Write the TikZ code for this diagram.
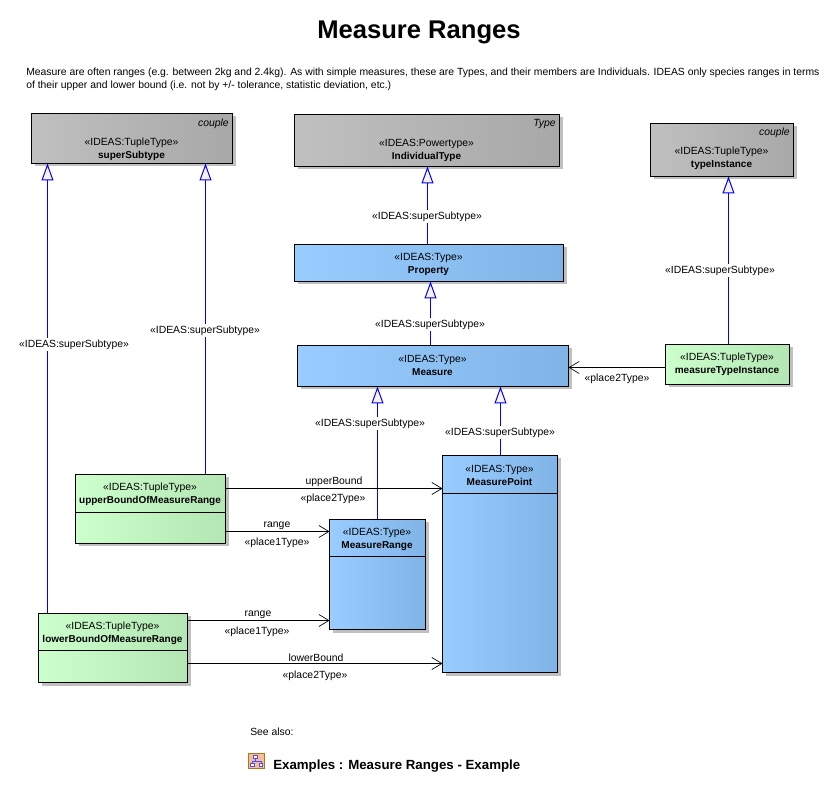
\documentclass[tikz,border=0pt]{standalone}
\usepackage{fontspec}
\setmainfont{Liberation Sans}
\usetikzlibrary{arrows.meta}
\definecolor{uline}{RGB}{0,0,255}
\definecolor{cream}{RGB}{248,242,232}
\definecolor{shadowgrey}{RGB}{192,192,192}
\definecolor{gA}{RGB}{192,192,192}
\definecolor{gB}{RGB}{168,168,168}
\definecolor{bA}{RGB}{153,204,255}
\definecolor{bB}{RGB}{128,180,230}
\definecolor{nA}{RGB}{204,255,204}
\definecolor{nB}{RGB}{180,230,180}
\definecolor{iconfill}{RGB}{245,190,150}
\definecolor{iconedge}{RGB}{170,120,20}
\definecolor{iconblue}{RGB}{77,77,255}
\newcommand{\nm}[1]{{\fontsize{7.5pt}{9.75pt}\selectfont\bfseries #1}}
\tikzset{
  x=0.75pt,y=-0.75pt,
  greybox/.style={left color=gA,middle color=gA,right color=gB},
  bluebox/.style={left color=bA,middle color=bA,right color=bB},
  greenbox/.style={left color=nA,middle color=nA,right color=nB},
  txt/.style={font=\fontsize{7.8pt}{9.75pt}\selectfont,inner sep=0pt,align=center,yshift=-0.8pt},
  lab/.style={txt,fill=white,inner xsep=1pt,inner ysep=1pt},
  plainlab/.style={txt},
  corner/.style={txt,font=\fontsize{7.8pt}{9.75pt}\selectfont\itshape,anchor=east},
  gen/.style={uline,line width=0.75pt,-{Triangle[length=12.75pt,width=9pt,fill=cream,line width=0.75pt]}},
  assoc/.style={black,line width=0.75pt,-{Straight Barb[length=7.5pt,width=9pt,line width=0.5pt]}},
  divider/.style={black,line width=0.75pt}
}
\newcommand{\umlbox}[6]{% name x1 y1 x2 y2 style
  \fill[shadowgrey] (#2+3.5,#3+3.5) rectangle (#4+3.5,#5+3.5);
  \node[#6,draw=black,line width=0.75pt,inner sep=0pt,anchor=north west,outer sep=0pt,
        minimum width={(#4-#2)*0.75pt},minimum height={(#5-#3)*0.75pt}] (#1) at (#2+0.5,#3+0.5) {};
}
\begin{document}
\begin{tikzpicture}
\useasboundingbox (0,0) rectangle (833,802);
\fill[white] (0,0) rectangle (833,802);
\node[font=\fontsize{19.2pt}{21pt}\selectfont\bfseries,inner sep=0pt] (title) at (419,32) {Measure Ranges};
\node[txt,align=left,anchor=north west,font=\fontsize{7.79pt}{9.75pt}\selectfont] (intro) at (26,67)
 {Measure are often ranges (e.g. between 2kg and 2.4kg). As with simple measures, these are Types, and their members are Individuals. IDEAS only species ranges in terms\\of their upper and lower bound (i.e. not by +/- tolerance, statistic deviation, etc.)};

\umlbox{sup}{31}{113}{232}{163}{greybox}
\umlbox{ind}{294}{114}{559}{166}{greybox}
\umlbox{tin}{650}{123}{793}{176}{greybox}
\umlbox{pro}{294}{244}{563}{281}{bluebox}
\umlbox{mea}{297}{345}{568}{386}{bluebox}
\umlbox{mti}{665}{344}{789}{384}{greenbox}
\umlbox{upp}{75}{474}{225}{543}{greenbox}
\umlbox{low}{38}{613}{187}{682}{greenbox}
\umlbox{mra}{329}{519}{425}{629}{bluebox}
\umlbox{mpo}{442}{455}{557}{672}{bluebox}

\coordinate (d1) at (0,512.5);
\coordinate (d2) at (0,650.5);
\coordinate (d3) at (0,556.5);
\coordinate (d4) at (0,493.5);
\draw[divider] (upp.west |- d1) -- (upp.east |- d1);
\draw[divider] (low.west |- d2) -- (low.east |- d2);
\draw[divider] (mra.west |- d3) -- (mra.east |- d3);
\draw[divider] (mpo.west |- d4) -- (mpo.east |- d4);

\node[txt] (supt) at (131.5,148.5) {«IDEAS:TupleType»\\\nm{superSubtype}};
\node[txt] (indt) at (426.5,149.5) {«IDEAS:Powertype»\\\nm{IndividualType}};
\node[txt] (tint) at (721.5,157.5) {«IDEAS:TupleType»\\\nm{typeInstance}};
\node[txt] (prot) at (428.5,263.5) {«IDEAS:Type»\\\nm{Property}};
\node[txt] (meat) at (432.5,364.5) {«IDEAS:Type»\\\nm{Measure}};
\node[txt] (mtit) at (727,363.5) {«IDEAS:TupleType»\\\nm{measureTypeInstance}};
\node[txt] (uppt) at (150,493.5) {«IDEAS:TupleType»\\\nm{upperBoundOfMeasureRange}};
\node[txt] (lowt) at (112.5,632.5) {«IDEAS:TupleType»\\\nm{lowerBoundOfMeasureRange}};
\node[txt] (mrat) at (377,538.5) {«IDEAS:Type»\\\nm{MeasureRange}};
\node[txt] (mpot) at (499.5,474.5) {«IDEAS:Type»\\\nm{MeasurePoint}};

\node[corner] (c1) at (229,123) {couple};
\node[corner] (c2) at (556,123) {Type};
\node[corner] (c3) at (790,132) {couple};

\coordinate (x47) at (47.5,0);
\coordinate (x205) at (205.5,0);
\coordinate (x427) at (427.5,0);
\coordinate (x430) at (430.5,0);
\coordinate (x377) at (377.5,0);
\coordinate (x500) at (500.5,0);
\coordinate (x728) at (728.5,0);
\coordinate (y367) at (0,367.5);
\coordinate (y488) at (0,488.5);
\coordinate (y531) at (0,531.5);
\coordinate (y620) at (0,620.5);
\coordinate (y663) at (0,663.5);

\draw[gen] (low.north -| x47) -- (sup.south -| x47);
\draw[gen] (upp.north -| x205) -- (sup.south -| x205);
\draw[gen] (pro.north -| x427) -- (ind.south -| x427);
\draw[gen] (mea.north -| x430) -- (pro.south -| x430);
\draw[gen] (mra.north -| x377) -- (mea.south -| x377);
\draw[gen] (mpo.north -| x500) -- (mea.south -| x500);
\draw[gen] (mti.north -| x728) -- (tin.south -| x728);

\draw[assoc] (mti.west |- y367) -- (mea.east |- y367);
\draw[assoc] (upp.east |- y488) -- (mpo.west |- y488);
\draw[assoc] (upp.east |- y531) -- (mra.west |- y531);
\draw[assoc] (low.east |- y620) -- (mra.west |- y620);
\draw[assoc] (low.east |- y663) -- (mpo.west |- y663);

\node[lab] (l1) at (74,343.5) {«IDEAS:superSubtype»};
\node[lab] (l2) at (205,329.5) {«IDEAS:superSubtype»};
\node[lab] (l3) at (427,215.5) {«IDEAS:superSubtype»};
\node[lab] (l4) at (430,323.5) {«IDEAS:superSubtype»};
\node[lab] (l5) at (370,422.5) {«IDEAS:superSubtype»};
\node[lab] (l6) at (500,431.5) {«IDEAS:superSubtype»};
\node[lab] (l7) at (720,269.5) {«IDEAS:superSubtype»};
\node[plainlab] (a1) at (617,377.5) {«place2Type»};
\node[plainlab] (a2) at (334,480.5) {upperBound};
\node[plainlab] (a3) at (333,497.5) {«place2Type»};
\node[plainlab] (a4) at (277,524.5) {range};
\node[plainlab] (a5) at (277,541.5) {«place1Type»};
\node[plainlab] (a6) at (258,613.5) {range};
\node[plainlab] (a7) at (257,630.5) {«place1Type»};
\node[plainlab] (a8) at (316,656.5) {lowerBound};
\node[plainlab] (a9) at (315,674.5) {«place2Type»};

\node[txt,anchor=west] (see) at (250,730.5) {See also:};
% icon
\fill[iconfill] (248.5,753.5) rectangle (264.5,768.5);
\draw[iconedge,line width=0.75pt] (248.5,753.5) rectangle (264.5,768.5);
\draw[iconblue,line width=0.5pt] (255,757) -- (255,761) (252,761) -- (261,761) (252,761) -- (252,764) (261,761) -- (261,764);
\fill[white,draw=iconblue,line width=0.4pt] (253,755) rectangle (257,758) (250.5,763) rectangle (254,766) (259,763) rectangle (262.5,766);
\node[txt,anchor=west,font=\fontsize{9.96pt}{11pt}\selectfont\bfseries] (ex) at (273,765.5) {Examples : Measure Ranges - Example};
\end{tikzpicture}
\end{document}
